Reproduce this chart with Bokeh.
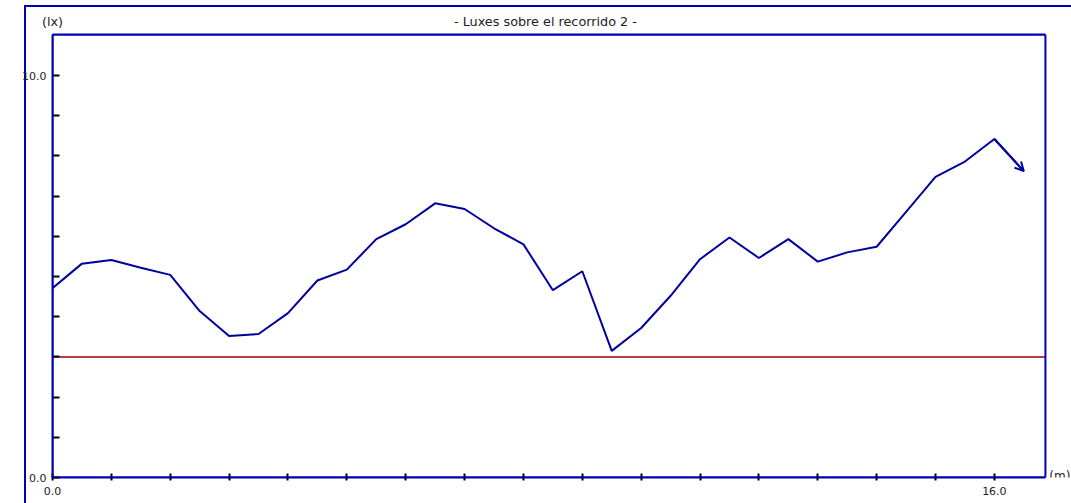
from bokeh.plotting import figure
from bokeh.models import Range1d, FixedTicker, Label, Arrow, OpenHead, BoxAnnotation, LinearAxis
from bokeh.embed import file_html
from bokeh.resources import INLINE

# ---- data ----
distance_m = [0.0, 0.5, 1.0, 1.5, 2.0, 2.5, 3.0, 3.5, 4.0, 4.5, 5.0, 5.5, 6.0, 6.5,
              7.0, 7.5, 8.0, 8.5, 9.0, 9.5, 10.0, 10.5, 11.0, 11.5, 12.0, 12.5,
              13.0, 13.5, 14.0, 14.5, 15.0, 15.5, 16.0, 16.5]
luxes = [4.71, 5.32, 5.41, 5.22, 5.04, 4.14, 3.52, 3.57, 4.09, 4.90, 5.17, 5.93,
         6.30, 6.82, 6.68, 6.20, 5.80, 4.66, 5.13, 3.15, 3.72, 4.52, 5.43, 5.97,
         5.46, 5.93, 5.37, 5.60, 5.74, 6.61, 7.48, 7.86, 8.42, 7.62]
threshold = 3.0
x_ticks = list(range(0, 17))
y_ticks = list(range(0, 11))
x_tick_labels = {0: "0.0", 16: "16.0"}
y_tick_labels = {0: "0.0", 10: "10.0"}
title_text = "- Luxes sobre el recorrido 2 -"
y_unit = "(lx)"
x_unit = "(m)"

# axis extents (data units)
X_END = 16.867
Y_END = 11.02
X_VIEW = 17.31
TITLE_X = 8.374
UNIT_X = 16.934

BLUE = "#0000b4"
LINE = "#0000a0"
RED = "#990000"
FONT = "DejaVu Sans"
TXT = "#222222"

p = figure(width=1071, height=503, output_backend="svg", toolbar_location=None,
           x_range=Range1d(0, X_VIEW), y_range=Range1d(0, Y_END),
           min_border_left=52, min_border_right=0, min_border_top=34, min_border_bottom=26)
p.title.visible = False

bottom_axis = p.below[0]
left_axis = p.left[0]

p.xgrid.visible = False
p.ygrid.visible = False
p.background_fill_color = None
p.border_fill_color = None
p.outline_line_color = None
p.styles = {
    "background": ("linear-gradient(%s,%s) 24px 5px / 2px 100%% no-repeat, "
                   "linear-gradient(%s,%s) 24px 5px / 100%% 2px no-repeat, #ffffff")
                  % (BLUE, BLUE, BLUE, BLUE)
}

# top axis carrying the unit label and the chart title
top_ticks = [0, TITLE_X]
top_axis = LinearAxis(ticker=FixedTicker(ticks=top_ticks),
                      major_label_overrides={0: y_unit, TITLE_X: title_text},
                      bounds=(0, X_END))
p.add_layout(top_axis, "above")

for ax, ticks, labels, bnds in ((bottom_axis, x_ticks, x_tick_labels, (0, X_END)),
                                (left_axis, y_ticks, y_tick_labels, (0, Y_END))):
    ax.ticker = FixedTicker(ticks=ticks)
    ax.bounds = bnds
    ax.major_label_overrides = {t: labels.get(t, "") for t in ticks}

for ax in (bottom_axis, left_axis, top_axis):
    ax.axis_line_color = BLUE
    ax.axis_line_width = 2
    ax.major_tick_line_color = "black"
    ax.major_tick_line_width = 2
    ax.minor_tick_line_color = None
    ax.major_label_text_font = FONT
    ax.major_label_text_font_size = "11px"
    ax.major_label_text_color = TXT

top_axis.major_tick_line_color = None
top_axis.major_tick_in = 0
top_axis.major_tick_out = 0
top_axis.major_label_standoff = 6
top_axis.major_label_text_font_size = "12.8px"

bottom_axis.major_tick_in = 4
bottom_axis.major_tick_out = 3
bottom_axis.major_label_standoff = 6
left_axis.major_tick_in = 7
left_axis.major_tick_out = 0
left_axis.major_label_standoff = 6

# inner frame (right edge; top edge is the top axis line)
p.add_layout(BoxAnnotation(left=0, right=X_END, bottom=0, top=Y_END,
                           fill_color=None, fill_alpha=0, line_color=BLUE,
                           line_alpha=1.0, line_width=2))

# threshold line
p.segment(x0=0, y0=threshold, x1=X_END, y1=threshold, line_color=RED, line_width=1.5)

# luxes line with arrow at the end
p.line(distance_m, luxes, line_color=LINE, line_width=2)
p.add_layout(Arrow(end=OpenHead(size=9, line_color=LINE, line_width=2),
                   x_start=distance_m[-2], y_start=luxes[-2],
                   x_end=distance_m[-1], y_end=luxes[-1],
                   line_color=LINE, line_width=2))

p.add_layout(Label(x=UNIT_X, y=0.03, text=x_unit, text_align="left", text_baseline="middle",
                   text_font=FONT, text_font_size="12px", text_color=TXT))

open("out.html", "w").write(file_html(p, INLINE))
